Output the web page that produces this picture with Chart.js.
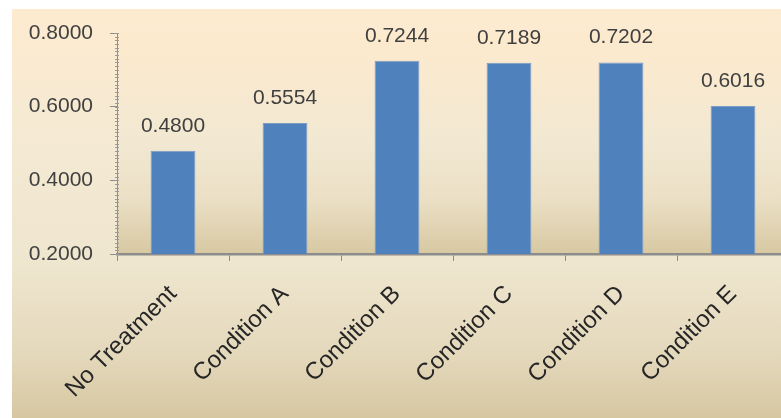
<!DOCTYPE html>
<html>
<head>
<meta charset="utf-8">
<script src="https://cdn.jsdelivr.net/npm/chart.js@4"></script>
<style>
  html, body { margin: 0; padding: 0; background: #fff; overflow: hidden; }
  #wrap { position: absolute; left: 12px; top: 9px; }
</style>
</head>
<body>
<div id="wrap"><canvas id="chart" width="800" height="409"></canvas></div>
<script>
const categories = ["No Treatment", "Condition A", "Condition B", "Condition C", "Condition D", "Condition E"];
const values = [0.4800, 0.5554, 0.7244, 0.7189, 0.7202, 0.6016];
const yTicks = [0.2, 0.4, 0.6, 0.8];

const FONT = "'Liberation Sans', Arial, sans-serif";

// page + plot area fills
const backdrop = {
  id: "backdrop",
  beforeDraw(c) {
    const ctx = c.ctx;
    const h = c.height;
    let g = ctx.createLinearGradient(0, 0, 0, h);
    g.addColorStop(0, "#fdebd0");
    g.addColorStop(0.35, "#f4e9d3");
    g.addColorStop(0.62, "#efe6cf");
    g.addColorStop(0.85, "#e4d8bb");
    g.addColorStop(1, "#d6c7a1");
    ctx.save();
    ctx.fillStyle = g;
    ctx.fillRect(0, 0, c.width, h);
    const a = c.chartArea;
    g = ctx.createLinearGradient(0, a.top, 0, a.bottom);
    g.addColorStop(0, "#fdeacd");
    g.addColorStop(0.5, "#f2e8d2");
    g.addColorStop(0.75, "#ebe0c5");
    g.addColorStop(1, "#d8c8a2");
    ctx.fillStyle = g;
    ctx.fillRect(a.left, a.top, a.right - a.left, a.bottom - a.top);
    ctx.restore();
  }
};

// small minor ticks on the value axis
const minorTicks = {
  id: "minorTicks",
  afterDraw(c) {
    const y = c.scales.y;
    const ctx = c.ctx;
    const x0 = c.chartArea.left;
    ctx.save();
    ctx.strokeStyle = "#9a9a9a";
    ctx.lineWidth = 1;
    for (let i = 20; i <= 80; i++) {
      const py = Math.round(y.getPixelForValue(i / 100)) + 0.5;
      ctx.beginPath();
      ctx.moveTo(x0 - 2, py);
      ctx.lineTo(x0 + 2, py);
      ctx.stroke();
    }
    ctx.restore();
  }
};

// value labels above the bars
const barLabels = {
  id: "barLabels",
  afterDatasetsDraw(c) {
    const ctx = c.ctx;
    const meta = c.getDatasetMeta(0);
    ctx.save();
    ctx.font = "21px " + FONT;
    ctx.fillStyle = "#404040";
    ctx.textAlign = "center";
    ctx.textBaseline = "alphabetic";
    meta.data.forEach((bar, i) => {
      ctx.fillText(values[i].toFixed(4), bar.x, bar.y - 19);
    });
    ctx.restore();
  }
};

new Chart(document.getElementById("chart"), {
  type: "bar",
  plugins: [backdrop, minorTicks, barLabels],
  data: {
    labels: categories,
    datasets: [{
      data: values,
      backgroundColor: "#4f81bd",
      borderColor: "#7d9cc6",
      borderWidth: 1,
      categoryPercentage: 1,
      barPercentage: 0.4
    }]
  },
  options: {
    responsive: false,
    animation: false,
    layout: { padding: { top: 24, right: 23, left: 0, bottom: 0 } },
    plugins: { legend: { display: false }, tooltip: { enabled: false } },
    scales: {
      x: {
        afterFit(s) { s.height = 164; },
        border: { display: true, color: "#8c8c8c", width: 2.5 },
        grid: { offset: true, drawOnChartArea: false, drawTicks: true, tickLength: 7, color: "#8c8c8c" },
        ticks: {
          color: "#262626",
          font: { family: FONT, size: 24 },
          minRotation: 45,
          maxRotation: 45,
          padding: 19
        }
      },
      y: {
        min: 0.2,
        max: 0.8,
        afterFit(s) {
          s.width = 105;
          s.paddingTop = 0;
          s.paddingBottom = 0;
        },
        afterBuildTicks(s) { s.ticks = yTicks.map(v => ({ value: v })); },
        border: { display: true, color: "#8c8c8c", width: 1 },
        grid: { drawOnChartArea: false, drawTicks: true, tickLength: 7, color: "#8c8c8c" },
        ticks: {
          color: "#404040",
          font: { family: FONT, size: 21 },
          padding: 17,
          callback: v => v.toFixed(4)
        }
      }
    }
  }
});
</script>
</body>
</html>
